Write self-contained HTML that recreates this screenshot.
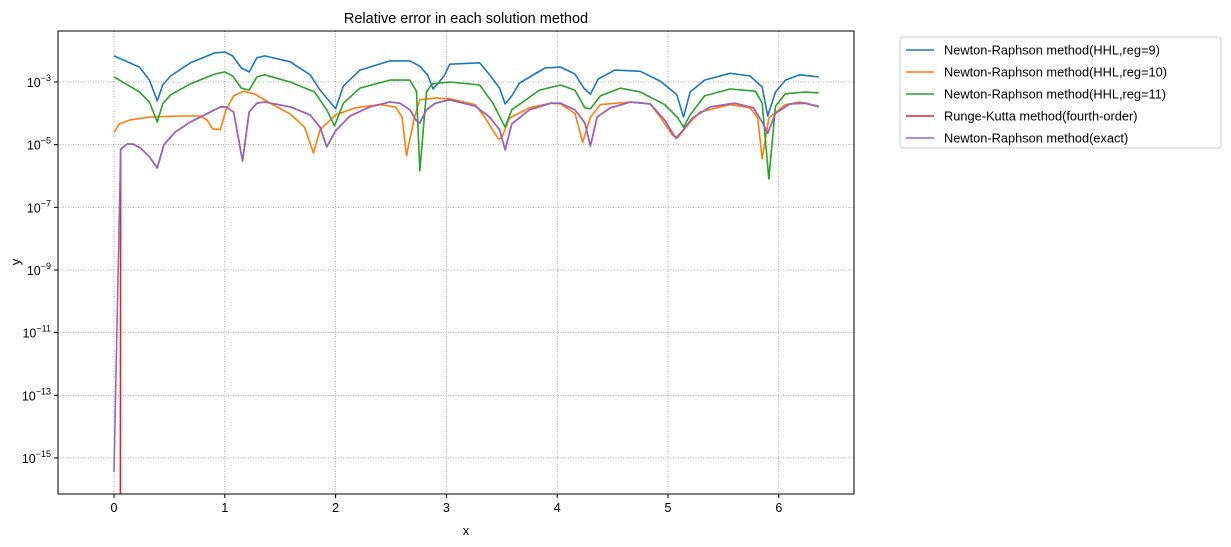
<!DOCTYPE html>
<html><head><meta charset="utf-8"><style>
html,body{margin:0;padding:0;background:#fff;width:1231px;height:547px;overflow:hidden;}
svg{display:block;font-family:"Liberation Sans","DejaVu Sans",sans-serif;}
</style></head><body>
<svg id="chart" width="1231" height="547" viewBox="0 0 1231 547">
<defs><clipPath id="clip"><rect x="58" y="31" width="796" height="463"/></clipPath></defs>
<rect x="0" y="0" width="1231" height="547" fill="#fff"/>
<text x="466" y="23" text-anchor="middle" font-size="14.5">Relative error in each solution method</text>
<g id="grid"></g><g id="series" clip-path="url(#clip)"></g>
<rect x="58" y="31" width="796" height="463" fill="none" stroke="#000" stroke-width="1"/>
<g id="axes"></g>
<text x="466" y="535" text-anchor="middle" font-size="13">x</text>
<text x="20" y="262" text-anchor="middle" font-size="13" transform="rotate(-90 20 262)">y</text>
<g id="legend"></g>
</svg>
<script>
const xTicks=[0,1,2,3,4,5,6];
const yTickExps=[-15,-13,-11,-9,-7,-5,-3];
const seriesNames=["Newton-Raphson method(HHL,reg=9)","Newton-Raphson method(HHL,reg=10)","Newton-Raphson method(HHL,reg=11)","Runge-Kutta method(fourth-order)","Newton-Raphson method(exact)"];
const seriesColors=["#1f77b4","#ff7f0e","#2ca02c","#d62728","#9467bd"];
const blueX=[0,0.23,0.32,0.39,0.44,0.51,0.69,0.91,1.00,1.07,1.15,1.22,1.29,1.36,1.59,1.77,1.86,2.00,2.07,2.22,2.49,2.67,2.76,2.83,2.88,2.98,3.03,3.30,3.39,3.48,3.53,3.59,3.66,3.89,4.03,4.16,4.24,4.30,4.37,4.52,4.75,4.93,5.08,5.14,5.20,5.33,5.56,5.74,5.85,5.90,5.97,6.06,6.19,6.36];
const blueY=[6.8e-3,3.0e-3,1.15e-3,2.5e-4,8e-4,1.55e-3,4.1e-3,8.5e-3,9.1e-3,6.8e-3,2.8e-3,2.1e-3,5.9e-3,6.8e-3,4.4e-3,1.7e-3,5.5e-4,1.4e-4,7.4e-4,2.4e-3,4.7e-3,4.7e-3,3.2e-3,1.7e-3,6e-4,1.55e-3,3.7e-3,4.1e-3,1.7e-3,6.4e-4,2.0e-4,3.6e-4,9.3e-4,2.8e-3,3.0e-3,1.8e-3,6.4e-4,4.1e-4,1.25e-3,2.4e-3,2.2e-3,1.07e-3,3.9e-4,7.6e-5,4.8e-4,1.15e-3,1.9e-3,1.55e-3,6.9e-4,8.2e-5,4.8e-4,1.15e-3,1.7e-3,1.45e-3];
const orangeX=[0,0.05,0.14,0.32,0.60,0.78,0.84,0.89,0.96,1.01,1.08,1.17,1.27,1.41,1.59,1.72,1.80,1.86,2.00,2.18,2.40,2.54,2.60,2.64,2.71,2.76,2.90,3.03,3.26,3.35,3.47,3.50,3.57,3.75,3.94,4.03,4.16,4.23,4.30,4.39,4.66,4.84,4.93,5.04,5.09,5.20,5.29,5.56,5.74,5.81,5.85,5.91,6.06,6.19,6.36];
const orangeY=[2.5e-5,4.6e-5,6.1e-5,7.6e-5,8.2e-5,8.2e-5,6.1e-5,3.2e-5,3.0e-5,1.3e-4,3.6e-4,5.1e-4,4.1e-4,2.1e-4,9.5e-5,3.6e-5,5.4e-6,3.0e-5,8.9e-5,1.5e-4,1.9e-4,1.6e-4,7.6e-5,4.4e-6,7.1e-5,2.7e-4,3.1e-4,2.9e-4,1.9e-4,7.1e-5,1.5e-5,1.7e-5,7.1e-5,1.5e-4,2.1e-4,2.0e-4,1.0e-4,1.2e-5,7.6e-5,1.9e-4,2.3e-4,2.0e-4,7.6e-5,2.0e-5,1.7e-5,5.3e-5,1.1e-4,1.9e-4,1.5e-4,7.1e-5,3.5e-6,7.1e-5,1.9e-4,2.3e-4,1.7e-4];
const greenX=[0,0.23,0.32,0.39,0.44,0.51,0.69,0.91,1.00,1.07,1.15,1.22,1.29,1.36,1.59,1.81,1.92,1.99,2.07,2.22,2.49,2.67,2.73,2.76,2.82,2.87,3.03,3.30,3.42,3.53,3.59,3.84,4.03,4.16,4.25,4.30,4.39,4.57,4.75,4.97,5.09,5.14,5.20,5.33,5.56,5.79,5.85,5.91,5.97,6.06,6.24,6.36];
const greenY=[1.45e-3,4.8e-4,2.3e-4,5.3e-5,2.0e-4,3.9e-4,8.7e-4,1.8e-3,2.1e-3,1.55e-3,6.4e-4,5.5e-4,1.45e-3,1.7e-3,1.0e-3,4.8e-4,1.3e-4,4.0e-5,2.1e-4,6.4e-4,1.15e-3,1.15e-3,5.1e-4,1.45e-6,4.8e-4,8.7e-4,1.0e-3,8e-4,2.1e-4,3.6e-5,1.3e-4,5.5e-4,8e-4,5.5e-4,1.5e-4,1.4e-4,3.6e-4,6.4e-4,4.8e-4,1.9e-4,7.1e-5,3.6e-5,8.9e-5,3.6e-4,6e-4,5.1e-4,2.1e-4,8e-7,1.7e-4,4.2e-4,4.8e-4,4.5e-4];
const purpleX=[0,0.06,0.12,0.17,0.24,0.32,0.39,0.45,0.55,0.69,0.87,0.96,1.01,1.08,1.16,1.22,1.29,1.36,1.59,1.77,1.86,1.92,2.00,2.13,2.31,2.49,2.58,2.67,2.73,2.76,2.82,2.90,3.03,3.26,3.39,3.48,3.53,3.59,3.75,3.94,4.03,4.16,4.25,4.30,4.36,4.48,4.66,4.84,4.97,5.07,5.14,5.22,5.38,5.60,5.77,5.85,5.90,5.97,6.10,6.24,6.36];
const purpleY=[3.5e-16,7.2e-6,1.05e-5,1.05e-5,7.8e-6,4.1e-6,1.8e-6,9.8e-6,2.5e-5,5.3e-5,1.1e-4,1.6e-4,1.6e-4,1.1e-4,3.0e-6,1.1e-4,2.1e-4,2.3e-4,1.6e-4,8.9e-5,3.6e-5,8.5e-6,2.8e-5,8.2e-5,1.6e-4,2.3e-4,2.1e-4,1.3e-4,5.7e-5,4.9e-5,1.3e-4,2.1e-4,2.7e-4,1.7e-4,7.6e-5,3.0e-5,6.8e-6,4.6e-5,1.3e-4,2.1e-4,2.1e-4,1.3e-4,4.9e-5,9.1e-6,7.6e-5,1.5e-4,2.3e-4,2.0e-4,6.1e-5,1.6e-5,3.0e-5,7.1e-5,1.6e-4,2.1e-4,1.5e-4,5.3e-5,2.3e-5,1.0e-4,2.0e-4,2.1e-4,1.6e-4];
const redX=purpleX;
const redY=[1e-300].concat(purpleY.slice(1));

const NS="http://www.w3.org/2000/svg";
const X0=58,X1=854,Y0=31,Y1=494,YCUT=500;
const xPx=v=>114+v*110.8;
const yPx=v=>82-(Math.log10(v)+3)*31.33;
const grid=document.getElementById('grid'),axes=document.getElementById('axes'),ser=document.getElementById('series'),leg=document.getElementById('legend');
function mk(tag,attrs,parent){const e=document.createElementNS(NS,tag);for(const k in attrs)e.setAttribute(k,attrs[k]);parent.appendChild(e);return e;}
xTicks.forEach(t=>{const x=xPx(t);
 const g=mk('line',{x1:x,x2:x,y1:Y0,y2:Y1,stroke:'#000','stroke-width':0.5,'stroke-dasharray':'1,1.5',opacity:0.6},grid);
 
 
 const tk=mk('line',{x1:x,x2:x,y1:Y1,y2:Y1+4,stroke:'#000'},axes);
 
 
 const l=mk('text',{x:x,y:Y1+18,'text-anchor':'middle','font-size':12.5},axes);l.textContent=t;
 
 
});
yTickExps.forEach(e=>{const y=yPx(Math.pow(10,e));
 const g=mk('line',{x1:X0,x2:X1,y1:y,y2:y,stroke:'#000','stroke-width':0.5,'stroke-dasharray':'1,1.5',opacity:0.6},grid);
 
 
 const tk=mk('line',{x1:X0-4,x2:X0,y1:y,y2:y,stroke:'#000'},axes);
 
 
 const l=mk('text',{x:X0-7,y:y+5,'text-anchor':'end','font-size':12.5},axes);
 
 
 const b=mk('tspan',{},l);b.textContent='10';
 const s=mk('tspan',{'font-size':9,dy:-6},l);s.textContent='\u2212'+Math.abs(e);
});
const allX=[blueX,orangeX,greenX,redX,purpleX],allY=[blueY,orangeY,greenY,redY,purpleY];
const sNames=['series-hhl-reg9','series-hhl-reg10','series-hhl-reg11','series-runge-kutta','series-exact'];
allX.forEach((xs,i)=>{
 const pts=xs.map((x,j)=>[xPx(x),yPx(allY[i][j])]);
 const out=pts.map((p,j)=>{
   if(p[1]<=YCUT) return p;
   const k=j>0?j-1:j+1; const q=pts[k];
   if(!q||q[1]>YCUT) return [p[0],YCUT];
   const t=(YCUT-q[1])/(p[1]-q[1]);
   return [q[0]+(p[0]-q[0])*t,YCUT];
 });
 const d=out.map((p,j)=>(j?'L':'M')+p[0].toFixed(2)+','+p[1].toFixed(1)).join('');
 const p=mk('path',{d:d,fill:'none',stroke:seriesColors[i],'stroke-width':1.6,'stroke-linejoin':'round'},ser);
 
 
});
const box=mk('rect',{x:900,y:37,width:321,height:111,rx:3,fill:'#fff',stroke:'#ccc'},leg);


seriesNames.forEach((n,i)=>{const y=50+i*22;
 const ln=mk('line',{x1:906,x2:934,y1:y,y2:y,stroke:seriesColors[i],'stroke-width':1.6},leg);
 
 
 const t=mk('text',{x:944,y:y+4.5,'font-size':12.8},leg);t.textContent=n;
 
 
});
</script>
</body></html>
